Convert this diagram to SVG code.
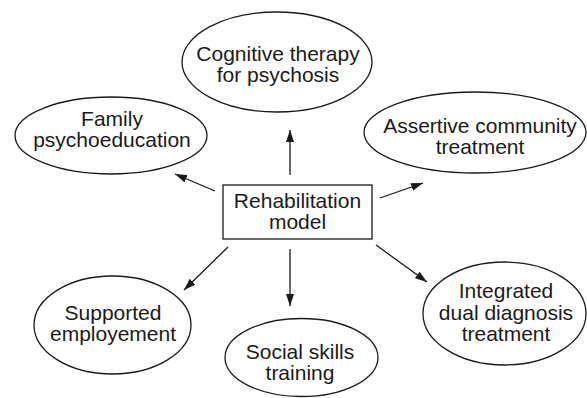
<svg xmlns="http://www.w3.org/2000/svg" width="587" height="398" viewBox="0 0 587 398">
  <style>
    .shape { fill: #ffffff; stroke: #1a1a1a; stroke-width: 1.3; }
    .label { font-family: "Liberation Sans", Arial, sans-serif; font-size: 21px; fill: #1a1a1a; text-anchor: middle; }
    .link { stroke: #1a1a1a; stroke-width: 1.3; fill: none; marker-end: url(#arrow); }
  </style>
  <defs>
    <marker id="arrow" viewBox="0 0 12 8" refX="12" refY="4" markerWidth="12" markerHeight="8" markerUnits="userSpaceOnUse" orient="auto">
      <path d="M0,0 L12,4 L0,8 Z" fill="#1a1a1a"/>
    </marker>
  </defs>
  <rect width="587" height="398" fill="#ffffff"/>

  <g id="connectors">
    <line class="link" x1="290" y1="175" x2="290" y2="130"/>
    <line class="link" x1="215" y1="191" x2="175" y2="174"/>
    <line class="link" x1="380" y1="198" x2="423" y2="183"/>
    <line class="link" x1="228" y1="247" x2="184" y2="290"/>
    <line class="link" x1="290" y1="249" x2="290" y2="306"/>
    <line class="link" x1="376" y1="245" x2="427" y2="282"/>
  </g>

  <g id="rehabilitation-model">
    <rect class="shape" x="223" y="185" width="149" height="54"/>
    <text class="label" x="297.5" y="208">Rehabilitation</text>
    <text class="label" x="297.5" y="229">model</text>
  </g>

  <g id="cognitive-therapy">
    <ellipse class="shape" cx="277" cy="62" rx="95" ry="50"/>
    <text class="label" x="278" y="60.5">Cognitive therapy</text>
    <text class="label" x="278" y="81.5">for psychosis</text>
  </g>

  <g id="family-psychoeducation">
    <ellipse class="shape" cx="111" cy="135.5" rx="96" ry="38.5"/>
    <text class="label" x="112" y="125.5">Family</text>
    <text class="label" x="112" y="146.5">psychoeducation</text>
  </g>

  <g id="assertive-community">
    <ellipse class="shape" cx="475" cy="132.5" rx="111" ry="40.5"/>
    <text class="label" x="480" y="132.5">Assertive community</text>
    <text class="label" x="480" y="153.5">treatment</text>
  </g>

  <g id="supported-employment">
    <ellipse class="shape" cx="112.5" cy="325" rx="78.5" ry="49"/>
    <text class="label" x="113" y="320">Supported</text>
    <text class="label" x="113" y="341">employement</text>
  </g>

  <g id="social-skills">
    <ellipse class="shape" cx="301.5" cy="357.5" rx="76.5" ry="39"/>
    <text class="label" x="300" y="359">Social skills</text>
    <text class="label" x="300" y="380">training</text>
  </g>

  <g id="integrated-treatment">
    <ellipse class="shape" cx="504.5" cy="313.5" rx="81.5" ry="51.5"/>
    <text class="label" x="506" y="298">Integrated</text>
    <text class="label" x="506" y="319.5">dual diagnosis</text>
    <text class="label" x="506" y="341">treatment</text>
  </g>
</svg>
